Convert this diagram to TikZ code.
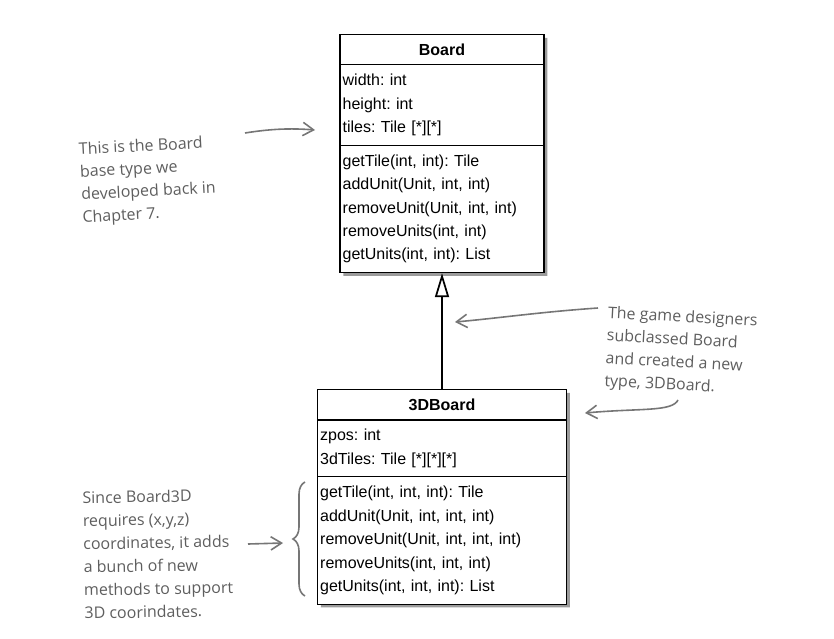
\documentclass[tikz,border=0pt]{standalone}
\usepackage{fontspec}
\setmainfont{Liberation Sans}
\newfontfamily\handfont{Open Sans}
\usetikzlibrary{shapes.multipart,shadows,arrows.meta,decorations.pathreplacing}
\definecolor{notegray}{HTML}{5E5E5E}
\frenchspacing
\begin{document}
\begin{tikzpicture}[x=0.75pt,y=-0.75pt,
  umlclass/.style={rectangle split, rectangle split parts=3, draw, line width=0.9pt,
    fill=white, text width=#1, align=left, inner xsep=2pt, inner ysep=6.5pt,
    anchor=north, font=\frenchspacing\fontsize{12}{17.6}\selectfont,
    drop shadow={shadow xshift=2.5pt, shadow yshift=-2.5pt, fill=black!65, opacity=0.6}},
  note/.style={align=left, text=notegray, font=\handfont\fontsize{12}{17}\selectfont},
  notearrow/.style={draw=notegray!85, line width=1.2pt,
    -{Straight Barb[length=8pt,width=10pt]}}]
  \useasboundingbox (0,0) rectangle (834,638);
  \node[umlclass=149pt] (board) at (442,34) {\hfill\textbf{Board}\hfill\null
    \nodepart{two}width: int\\height: int\\tiles: Tile [*][*]
    \nodepart{three}getTile(int, int): Tile\\addUnit(Unit, int, int)\\
    removeUnit(Unit, int, int)\\removeUnits(int, int)\\getUnits(int, int): List};
  \node[umlclass=182.7pt] (board3d) at (442,389) {\hfill\textbf{3DBoard}\hfill\null
    \nodepart{two}zpos: int\\3dTiles: Tile [*][*][*]
    \nodepart{three}getTile(int, int, int): Tile\\addUnit(Unit, int, int, int)\\
    removeUnit(Unit, int, int, int)\\removeUnits(int, int, int)\\getUnits(int, int, int): List};
  \draw[line width=1.3pt, -{Triangle[open, length=18pt, width=10.5pt]}]
    (board3d.north) -- (board.south);

  \node[note, rotate=3] (noteBase) at (148,181) {This is the Board\\base type we\\developed back in\\Chapter 7.};
  \node[note, rotate=-3] (noteSub) at (681,352) {The game designers\\subclassed Board\\and created a new\\type, 3DBoard.};
  \node[note, rotate=1, font=\handfont\fontsize{12}{17.3}\selectfont] (note3d) at (158,554)
    {Since Board3D\\requires (x,y,z)\\coordinates, it adds\\a bunch of new\\methods to support\\3D coorindates.};

  \coordinate (baseFrom) at (245,133);
  \coordinate (baseTo) at (315,130);
  \coordinate (subFrom) at (598,308);
  \coordinate (subTo) at (455,322);
  \coordinate (newFrom) at (678,400);
  \coordinate (newTo) at (585,413);
  \coordinate (bunchFrom) at (248,544);
  \coordinate (bunchTo) at (283,543);
  \draw[notearrow] (baseFrom) .. controls (270,129) and (290,128) .. (baseTo);
  \draw[notearrow] (subFrom) .. controls (540,312) and (500,318) .. (subTo);
  \draw[notearrow] (newFrom) .. controls (672,412) and (640,408) .. (newTo);
  \draw[notearrow] (bunchFrom) -- (bunchTo);
  \draw[notegray!85, line width=1.2pt, decorate, decoration={brace, amplitude=9pt}]
    (305,596) -- (305,482);
\end{tikzpicture}
\end{document}
